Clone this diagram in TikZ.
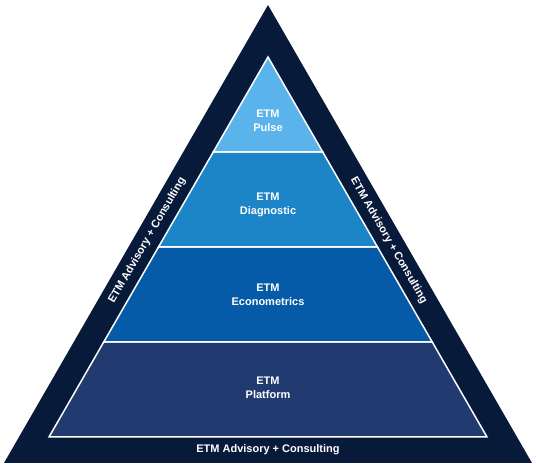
\documentclass[tikz,border=0pt]{standalone}
\usepackage{fontspec}
\setmainfont{Liberation Sans}
\usetikzlibrary{calc}

\begin{document}
\begin{tikzpicture}[x=1pt, y=1pt, font=\fontsize{11}{14}\selectfont\bfseries,
    band/.style={draw=white, line width=1.5pt, line join=miter},
    bandlabel/.style={text=white, align=center},
    ringlabel/.style={text=white, sloped}]

    % Define colors
    \definecolor{ringcolor}{HTML}{081A3A}
    \definecolor{pulsecolor}{HTML}{5AB4EB}
    \definecolor{diagcolor}{HTML}{1B85C8}
    \definecolor{econcolor}{HTML}{065BA8}
    \definecolor{platcolor}{HTML}{213A6F}

    \useasboundingbox (0,0) rectangle (536,466);

    % ===== OUTER RING =====
    \coordinate (outer top) at (268,461);
    \coordinate (outer left) at (4,3);
    \coordinate (outer right) at (532,3);
    \fill[ringcolor] (outer top) -- (outer left) -- (outer right) -- cycle;

    % ===== INNER PYRAMID =====
    \coordinate (top) at (268,409);
    \coordinate (left) at (49,29);
    \coordinate (right) at (487,29);
    \coordinate (l1) at ($(left)!0.25!(top)$);
    \coordinate (r1) at ($(right)!0.25!(top)$);
    \coordinate (l2) at ($(left)!0.5!(top)$);
    \coordinate (r2) at ($(right)!0.5!(top)$);
    \coordinate (l3) at ($(left)!0.75!(top)$);
    \coordinate (r3) at ($(right)!0.75!(top)$);

    % 1. Platform
    \filldraw[band, fill=platcolor] (left) -- (right) -- (r1) -- (l1) -- cycle;
    % 2. Econometrics
    \filldraw[band, fill=econcolor] (l1) -- (r1) -- (r2) -- (l2) -- cycle;
    % 3. Diagnostic
    \filldraw[band, fill=diagcolor] (l2) -- (r2) -- (r3) -- (l3) -- cycle;
    % 4. Pulse
    \filldraw[band, fill=pulsecolor] (l3) -- (r3) -- (top) -- cycle;

    % Band labels
    \node[bandlabel] (pulse) at (268,345.5) {ETM\\Pulse};
    \node[bandlabel] (diag) at (268,261) {ETM\\Diagnostic};
    \node[bandlabel] (econ) at (268,171) {ETM\\Econometrics};
    \node[bandlabel] (plat) at (268,78) {ETM\\Platform};

    % ===== RING LABELS =====
    \node[ringlabel] (ring bottom) at (268,16) {ETM Advisory + Consulting};
    \path ($(outer left)!0.5!(left)$) -- ($(outer top)!0.5!(top)$)
        node[ringlabel, midway] (ring left) {ETM Advisory + Consulting};
    \path ($(outer top)!0.5!(top)$) -- ($(outer right)!0.5!(right)$)
        node[ringlabel, midway] (ring right) {ETM Advisory + Consulting};

\end{tikzpicture}
\end{document}
